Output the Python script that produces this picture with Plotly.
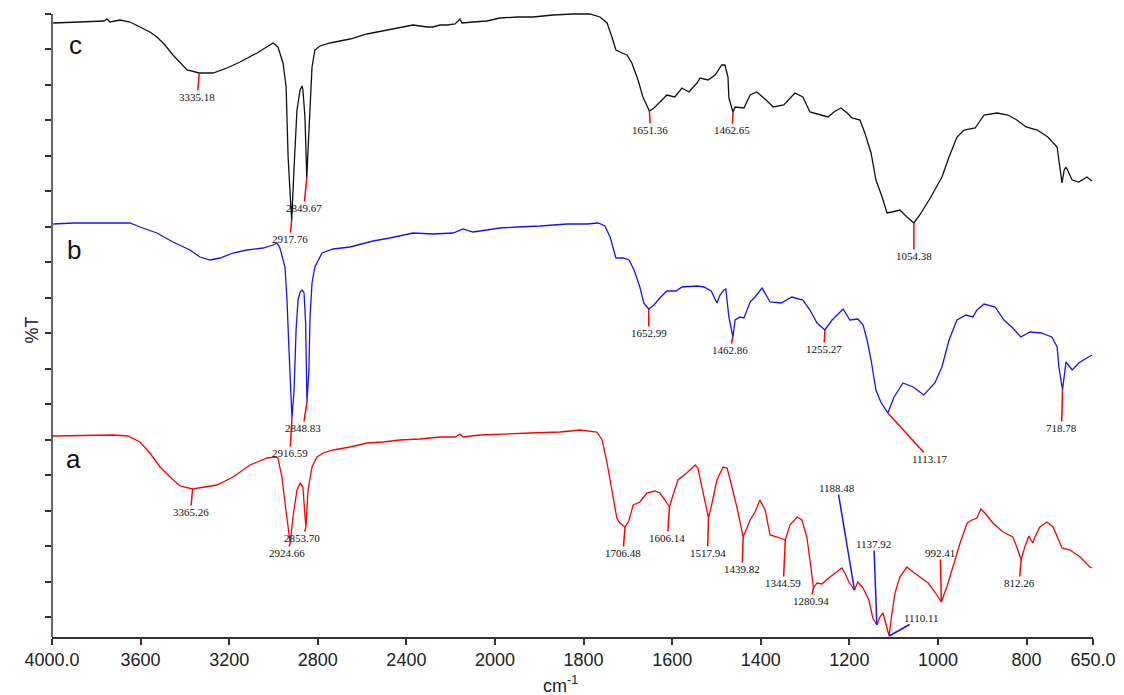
import plotly.graph_objects as go

# ---- FTIR spectra: wavenumber (cm-1) and transmittance (offset, arbitrary %T units) ----
c_wn = [3995, 3874, 3765, 3752, 3738, 3693, 3648, 3603, 3558, 3526, 3490, 3454, 3422, 3390,
        3335.18, 3273, 3210, 3151, 3074, 3002, 2980, 2957, 2943, 2934, 2925, 2917.76, 2907,
        2894, 2880, 2871, 2867, 2858, 2853, 2849.67, 2844, 2835, 2826, 2813, 2790, 2745, 2654,
        2578, 2505, 2429, 2370, 2338, 2307, 2280, 2248, 2217, 2180, 2158, 2149, 2099, 2036,
        1989, 1950, 1914, 1869, 1824, 1786, 1763, 1747, 1736, 1727, 1713, 1702, 1691, 1677,
        1666, 1651.36, 1641, 1628, 1612, 1594, 1578, 1562, 1544, 1537, 1519, 1503, 1488, 1481,
        1474, 1472, 1462.65, 1458, 1438, 1424, 1409, 1388, 1372, 1348, 1323, 1305, 1289, 1264,
        1248, 1235, 1219, 1205, 1194, 1176, 1165, 1151, 1140, 1126, 1115, 1104, 1086, 1070,
        1054.38, 1041, 1016, 991, 975, 957, 941, 916, 896, 867, 842, 822, 801, 776, 752, 731,
        724, 720, 715, 711, 697, 682, 664, 652]
c_t = [61.4, 61.5, 61.6, 61.8, 61.5, 61.7, 61.5, 61.0, 60.5, 60.0, 59.2, 58.2, 57.4, 56.7,
       56.4, 56.4, 56.9, 57.5, 58.4, 59.4, 59.0, 57.4, 55.0, 48.0, 44.4, 41.7, 47.0,
       52.7, 54.7, 55.1, 54.7, 52.0, 48.4, 45.9, 48.7, 53.7, 57.0, 58.7, 59.1, 59.4, 59.8,
       60.3, 60.6, 60.9, 61.2, 61.1, 61.0, 61.0, 61.2, 61.2, 61.3, 61.8, 61.4, 61.5, 61.6,
       61.9, 62.0, 62.0, 62.2, 62.3, 62.3, 62.0, 61.4, 60.0, 58.7, 58.4, 58.2, 57.4, 55.7,
       54.0, 52.6, 52.9, 53.5, 54.2, 54.0, 54.9, 54.5, 55.4, 55.9, 55.7, 56.2, 57.2, 57.2,
       56.0, 53.9, 52.5, 53.0, 52.9, 54.2, 54.5, 53.7, 53.0, 53.2, 54.4, 54.0, 52.5, 52.2,
       52.0, 52.5, 52.9, 52.4, 51.9, 51.7, 50.4, 48.4, 45.7, 44.0, 42.4, 42.5, 42.7, 42.0,
       41.4, 42.2, 44.0, 46.0, 48.0, 50.0, 50.7, 50.9, 52.2, 52.4, 52.2, 51.7, 51.0, 50.7, 50.0, 49.0,
       47.0, 45.4, 46.7, 47.0, 45.7, 45.5, 46.0, 45.6]

b_wn = [3995, 3905, 3648, 3603, 3526, 3454, 3377, 3332, 3287, 3241, 3183, 3120, 3047, 3002,
        2984, 2971, 2948, 2939, 2930, 2925, 2921, 2916.59, 2907, 2898, 2889, 2880, 2871, 2862,
        2855, 2848.83, 2840, 2835, 2826, 2813, 2781, 2731, 2654, 2551, 2474, 2370, 2280, 2189,
        2144, 2099, 2036, 1989, 1950, 1898, 1837, 1792, 1767, 1752, 1740, 1731, 1727, 1711,
        1697, 1686, 1673, 1664, 1652.99, 1641, 1628, 1612, 1591, 1578, 1544, 1528, 1512, 1499,
        1492, 1483, 1479, 1472, 1467, 1462.86, 1458, 1447, 1438, 1424, 1413, 1397, 1379, 1354,
        1330, 1305, 1289, 1273, 1255.27, 1239, 1214, 1199, 1181, 1169, 1160, 1151, 1140, 1129,
        1113.17, 1099, 1079, 1056, 1032, 1007, 991, 975, 957, 937, 921, 912, 896, 871, 851, 831,
        813, 792, 767, 743, 731, 727, 718.78, 713, 711, 697, 682, 664, 652]
b_t = [41.3, 41.4, 41.4, 41.0, 40.4, 39.5, 38.7, 38.0, 37.7, 37.9, 38.4, 38.7, 38.9, 39.2,
       39.4, 38.9, 37.0, 33.7, 28.7, 25.7, 22.7, 21.9, 24.7, 30.7, 33.7, 34.5, 34.7, 34.4,
       31.4, 23.5, 26.7, 32.0, 35.4, 37.0, 38.4, 38.8, 39.0, 39.6, 39.9, 40.4, 40.3, 40.4,
       40.8, 40.5, 40.7, 40.9, 41.0, 41.1, 41.3, 41.3, 41.4, 41.1, 40.0, 38.7, 37.9, 37.9,
       37.7, 36.7, 35.0, 33.4, 32.8, 33.2, 33.9, 34.6, 34.6, 35.0, 35.1, 35.0, 34.6, 33.4,
       34.2, 34.7, 34.8, 32.0, 31.0, 30.0, 31.7, 32.0, 31.9, 33.5, 34.0, 34.9, 33.5, 33.4,
       34.0, 33.7, 32.7, 31.4, 30.7, 31.7, 32.8, 31.7, 31.8, 31.2, 29.7, 27.7, 24.7, 23.5,
       22.4, 24.0, 25.4, 25.0, 24.2, 25.4, 27.0, 29.7, 31.7, 32.2, 32.0, 32.7, 33.3, 33.0, 31.7, 30.9,
       30.0, 30.5, 30.4, 30.0, 29.0, 27.0, 24.7, 27.0, 27.5, 26.7, 27.4, 27.9, 28.2]

a_wn = [4000, 3725, 3657, 3603, 3558, 3512, 3467, 3422, 3365.26, 3332, 3255, 3183, 3106, 3029,
        2993, 2980, 2962, 2948, 2934, 2924.66, 2912, 2894, 2880, 2867, 2862, 2853.70, 2844,
        2826, 2804, 2776, 2731, 2654, 2578, 2505, 2429, 2338, 2248, 2180, 2158, 2144, 2068,
        1989, 1921, 1853, 1808, 1770, 1758, 1747, 1736, 1725, 1718, 1706.48, 1698, 1692, 1688,
        1673, 1657, 1639, 1628, 1616, 1606.14, 1598, 1587, 1567, 1548, 1542, 1530, 1517.94,
        1510, 1499, 1485, 1476, 1465, 1454, 1439.82, 1424, 1413, 1402, 1390, 1379, 1363,
        1344.59, 1334, 1318, 1307, 1296, 1289, 1280.94, 1273, 1262, 1244, 1230, 1217, 1210,
        1201, 1188.48, 1181, 1169, 1156, 1147, 1137.92, 1131, 1124, 1120, 1110.11, 1106, 1097,
        1086, 1070, 1056, 1041, 1022, 1007, 992.41, 980, 966, 950, 934, 923, 912, 903, 894, 876,
        853, 831, 822, 812.26, 804, 795, 786, 781, 770, 754, 740, 720, 702, 679, 657, 652]
a_t = [20.1, 20.2, 20.1, 19.5, 18.4, 17.0, 16.0, 15.1, 14.8, 14.9, 15.2, 16.0, 17.2, 17.9,
       18.0, 17.9, 16.0, 13.4, 10.7, 9.4, 12.0, 14.7, 15.4, 15.0, 13.4, 10.9, 14.7,
       17.0, 18.0, 18.4, 18.7, 19.0, 19.4, 19.5, 19.7, 19.8, 20.0, 20.0, 20.3, 20.0, 20.2,
       20.3, 20.4, 20.5, 20.7, 20.5, 19.7, 17.4, 14.7, 11.9, 11.4, 11.0, 11.6, 12.5, 13.2,
       13.5, 14.4, 14.6, 14.4, 13.7, 13.0, 14.2, 15.7, 16.4, 17.2, 16.9, 14.4, 11.9,
       13.4, 15.7, 17.0, 16.9, 15.0, 13.0, 10.0, 11.7, 12.5, 13.7, 12.7, 10.2, 10.0,
       9.7, 11.2, 12.0, 11.7, 10.0, 7.7, 4.9, 5.4, 5.3, 6.0, 6.5, 6.9, 6.4,
       5.5, 4.7, 5.5, 4.9, 3.7, 1.9, 1.2, 2.0, 2.4, 1.7, 0.1, 1.7, 4.4,
       6.0, 7.0, 6.5, 6.0, 5.4, 4.5, 3.5, 5.0, 7.0, 9.4, 11.4, 11.7, 11.9, 12.8, 12.4, 11.4,
       10.5, 10.0, 9.0, 7.7, 9.0, 10.1, 9.4, 10.0, 11.0, 11.5, 11.0, 8.9, 8.7, 8.0, 7.0, 6.9]

# labelled band positions (cm-1)
c_peaks = [3335.18, 2917.76, 2849.67, 1651.36, 1462.65, 1054.38]
b_peaks = [2916.59, 2848.83, 1652.99, 1462.86, 1255.27, 1113.17, 718.78]
a_peaks = [3365.26, 2924.66, 2853.70, 1706.48, 1606.14, 1517.94, 1439.82, 1344.59,
           1280.94, 1188.48, 1137.92, 1110.11, 992.41, 812.26]

x_ticks = [4000, 3600, 3200, 2800, 2400, 2000, 1800, 1600, 1400, 1200, 1000, 800, 650]
x_tick_text = ["4000.0", "3600", "3200", "2800", "2400", "2000", "1800", "1600",
               "1400", "1200", "1000", "800", "650.0"]


def axis_pos(wn):
    """Above 2000 cm-1 the spectrum is drawn at half scale."""
    return wn if wn <= 2000 else 2000 + (wn - 2000) / 2


RED = "#ff0000"
BLUE = "#1414ff"
BLACK = "#111111"

fig = go.Figure()
for wn, t, col in [(a_wn, a_t, RED), (b_wn, b_t, BLUE), (c_wn, c_t, BLACK)]:
    fig.add_trace(go.Scatter(x=[axis_pos(w) for w in wn], y=t, mode="lines",
                             line=dict(color=col, width=1.3), hoverinfo="skip",
                             showlegend=False))

# pixel offsets of each band label from its band, plus marker colour
c_label_style = [(-2, 24, RED), (-2, 19, RED), (-3, 30, RED), (1, 19, RED), (-1, 18, RED),
                 (0, 33, RED)]
b_label_style = [(-2, 35, RED), (-4, 26, RED), (0, 24, RED), (-3, 13, RED), (-1, 19, RED),
                 (42, 46, RED), (-1, 38, RED)]
a_label_style = [(-2, 23, RED), (-3, 10, RED), (-4, 10, RED), (-2, 26, RED), (-2, 31, RED),
                 (-1, 35, RED), (-1, 32, RED), (-2, 43, RED), (-3, 13, RED), (-17, -102, BLUE),
                 (-3, -81, BLUE), (32, -18, BLUE), (-1, -49, RED), (-2, 23, RED)]

annotations = []
for peaks, wn, t, styles in [(c_peaks, c_wn, c_t, c_label_style),
                             (b_peaks, b_wn, b_t, b_label_style),
                             (a_peaks, a_wn, a_t, a_label_style)]:
    for p, (ax, ay, col) in zip(peaks, styles):
        val = t[wn.index(p)]
        annotations.append(dict(
            x=axis_pos(p), y=val, xref="x", yref="y", text=f"{p:.2f}",
            showarrow=True, arrowhead=0, arrowwidth=1.5, arrowcolor=col,
            ax=ax, ay=ay, standoff=0, startstandoff=0, borderpad=0,
            font=dict(family="Liberation Serif", size=11, color="#111111")))

# curve letters
for letter, wn, val in [("c", 3892, 59.2), ("b", 3901, 38.7), ("a", 3901, 17.8)]:
    annotations.append(dict(x=axis_pos(wn), y=val, xref="x", yref="y", text=letter,
                            showarrow=False, xanchor="center", yanchor="middle",
                            font=dict(family="Liberation Sans", size=26, color="#111111")))

# axis titles
annotations.append(dict(x=0.488, y=-0.076, xref="paper", yref="paper",
                        text="cm<sup>-1</sup>", showarrow=False, yanchor="middle",
                        font=dict(family="Liberation Sans", size=18, color="#222222")))
annotations.append(dict(x=-0.031, y=0.487, xref="paper", yref="paper", text="%T",
                        textangle=-90, showarrow=False,
                        font=dict(family="Liberation Sans", size=18, color="#222222")))

y_tick_base = 2.0
y_tick_step = 3.547
y_ticks = [y_tick_base + y_tick_step * k for k in range(18)]

fig.update_layout(
    width=1124, height=695,
    margin=dict(l=52, r=31, t=6, b=58),
    paper_bgcolor="white", plot_bgcolor="white",
    annotations=annotations,
    shapes=[dict(type="line", xref="paper", yref="y", x0=0, x1=0, y0=0, y1=y_ticks[-1],
                 line=dict(color="#333333", width=1.5))],
)
fig.update_xaxes(range=[axis_pos(4000), axis_pos(650)],
                 tickvals=[axis_pos(v) for v in x_ticks], ticktext=x_tick_text,
                 showline=True, linecolor="#333333", linewidth=1.5,
                 ticks="outside", ticklen=6, tickwidth=1.5, tickcolor="#333333",
                 tickfont=dict(family="Liberation Sans", size=18, color="#222222"),
                 showgrid=False, zeroline=False)
fig.update_yaxes(range=[0, 63.1], tickvals=y_ticks, showticklabels=False,
                 showline=False, ticks="outside", ticklen=6, tickwidth=1.5,
                 tickcolor="#333333", showgrid=False, zeroline=False)

fig.write_html("out.html")
